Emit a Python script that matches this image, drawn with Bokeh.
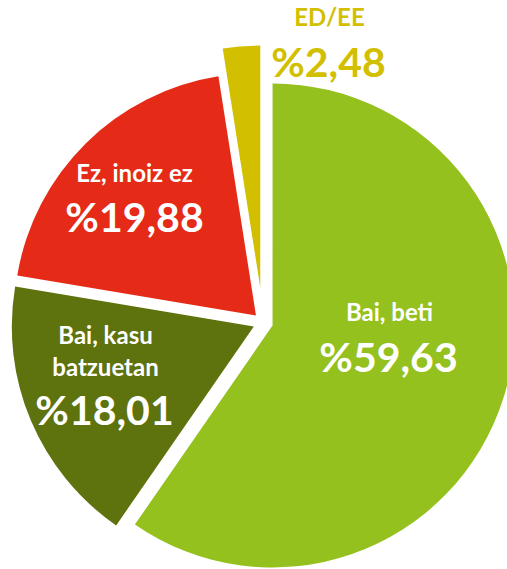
import numpy as np
from bokeh.plotting import figure
from bokeh.models import Range1d, ColumnDataSource
from bokeh.core.properties import value
from bokeh.embed import file_html
from bokeh.resources import INLINE

# ---- data ----
categories = ["Bai, beti", "Bai, kasu batzuetan", "Ez, inoiz ez", "ED/EE"]
label_lines = [["Bai, beti"], ["Bai, kasu", "batzuetan"], ["Ez, inoiz ez"], ["ED/EE"]]
percents = [59.63, 18.01, 19.88, 2.48]

# ---- style / layout ----
colors = ["#95C11F", "#5E720E", "#E52A17", "#D2BF00"]
text_colors = ["white", "white", "white", "#D2BF00"]
explode = [10, 10, 10, 35]
W, H = 507, 569
cx, cy = 262.5, H - 322
R = 242
name_pos = [(389, [311]), (105, [334, 366]), (134, [172]), (329, [16])]
pct_pos = [(388, 356), (104, 409), (134, 216), (328, 61)]

vals = np.array(percents)
frac = vals / vals.sum()
cum = np.concatenate([[0], np.cumsum(frac)]) * 2 * np.pi
starts_cw = cum[:-1]
ends_cw = cum[1:]
mid = (starts_cw + ends_cw) / 2
wx = cx + np.array(explode) * np.sin(mid)
wy = cy + np.array(explode) * np.cos(mid)
start_angle = np.pi / 2 - ends_cw
end_angle = np.pi / 2 - starts_cw

p = figure(width=W, height=H, output_backend="svg", toolbar_location=None,
           x_range=Range1d(0, W), y_range=Range1d(0, H),
           x_axis_location=None, y_axis_location=None, min_border=0)
p.grid.visible = False
p.outline_line_color = None

src = ColumnDataSource(dict(x=wx, y=wy, s=start_angle, e=end_angle, c=colors, cat=categories))
p.wedge(x="x", y="y", radius=R, start_angle="s", end_angle="e", fill_color="c",
        line_color=None, source=src)

nx, ny, nt, nc = [], [], [], []
for i, lines in enumerate(label_lines):
    x0, ys = name_pos[i]
    for ln, yy in zip(lines, ys):
        nx.append(x0); ny.append(H - yy); nt.append(ln); nc.append(text_colors[i])
p.text(x=nx, y=ny, text=nt, text_color=nc, text_font=value("Lato"), text_font_style="bold",
       text_font_size=value("24px"), text_align="center", text_baseline="alphabetic")

px = [pp[0] for pp in pct_pos]
py = [H - pp[1] for pp in pct_pos]
pt = ["%" + f"{v:.2f}".replace(".", ",") for v in percents]
p.text(x=px, y=py, text=pt, text_color=text_colors, text_font=value("Lato"), text_font_style="bold",
       text_font_size=value("41px"), text_align="center", text_baseline="alphabetic")

open("out.html", "w").write(file_html(p, INLINE))
